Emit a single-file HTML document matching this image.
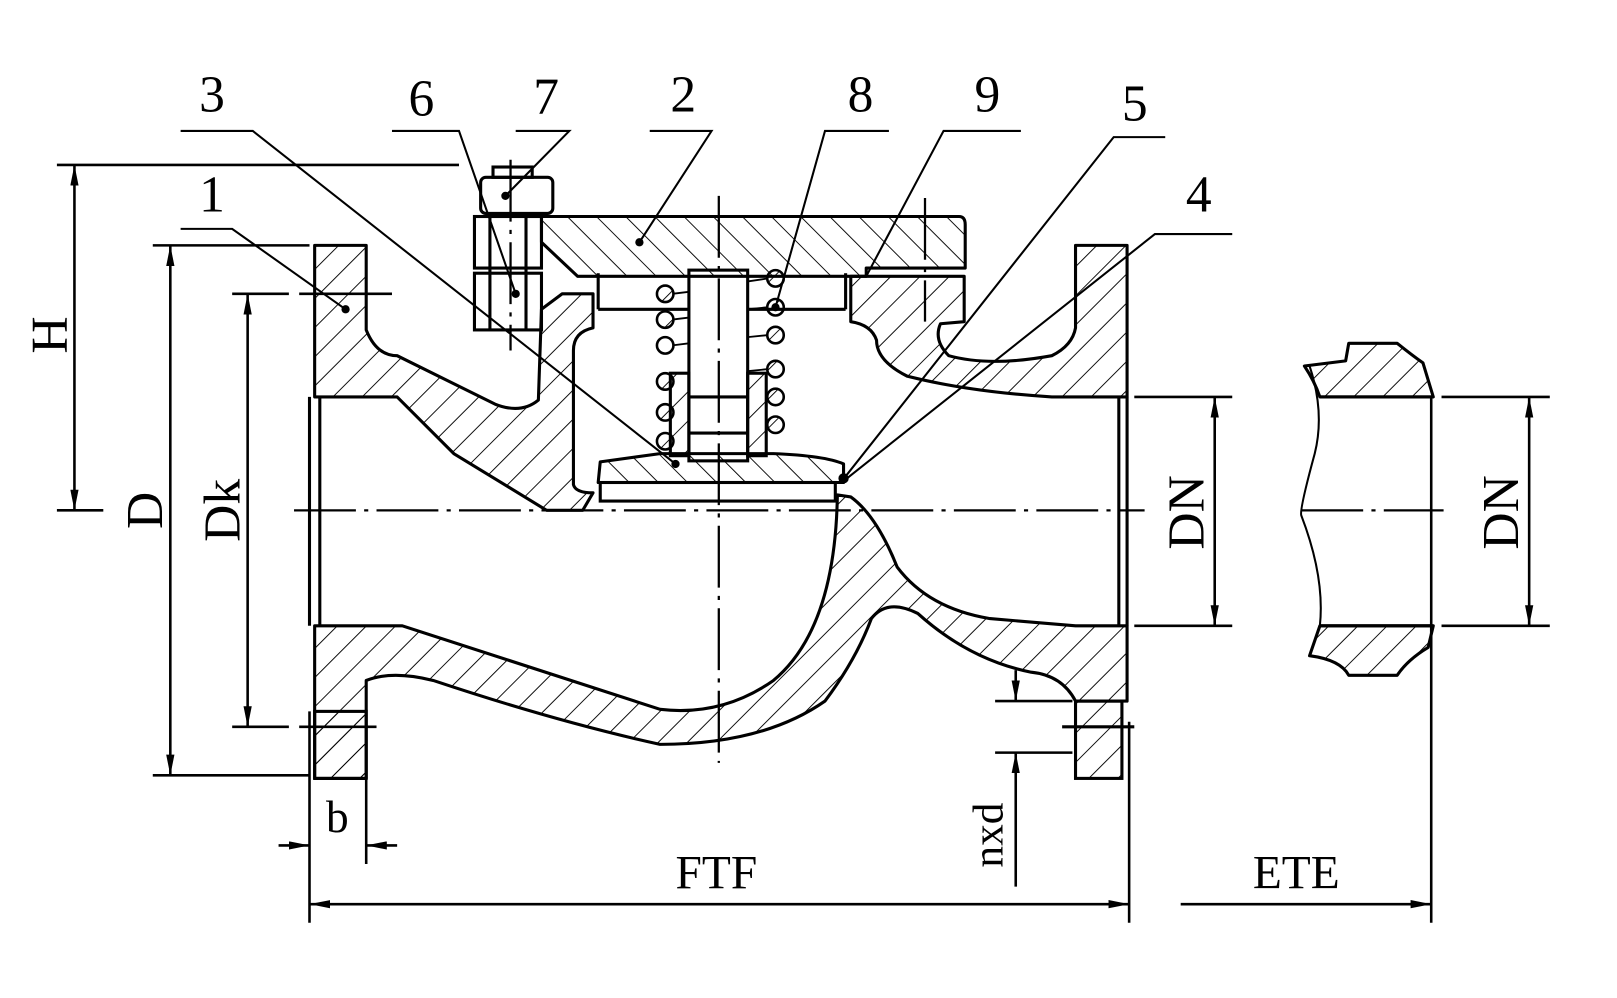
<!DOCTYPE html>
<html><head><meta charset="utf-8"><style>
html,body{margin:0;padding:0;background:#fff;}
svg{display:block;}
text{font-family:"Liberation Serif",serif;fill:#000;}
</style></head><body>
<svg width="1617" height="998" viewBox="0 0 1568 968" xmlns="http://www.w3.org/2000/svg">
<defs>
<pattern id="h" patternUnits="userSpaceOnUse" width="20" height="20" patternTransform="rotate(45)">
<line x1="0" y1="0" x2="0" y2="20" stroke="#000" stroke-width="1.8"/>
</pattern>
<pattern id="h2" patternUnits="userSpaceOnUse" width="20" height="20" patternTransform="rotate(-45)">
<line x1="0" y1="0" x2="0" y2="20" stroke="#000" stroke-width="1.8"/>
</pattern>
<marker id="a" viewBox="0 0 20 8" refX="20" refY="4" markerWidth="20" markerHeight="8" markerUnits="userSpaceOnUse" orient="auto-start-reverse"><path d="M0,0 L20,4 L0,8 z" fill="#000"/></marker>
</defs>
<g fill="url(#h)" stroke="#000" stroke-width="3" stroke-linejoin="round">
<path d="M305,238 L355,238 L355,320 Q365,345 385,345 L480,392 Q505,402 522,388 L525,300 L545,285 L575,285 L575,318 Q556,322 556,340 L556,470 Q558,478 575,478 L565,495 L530,495 L440,440 L385,385 L305,385 Z"/>
<path d="M825,268 L935,268 L935,312 L912,314 Q905,330 920,345 Q960,356 1020,345 Q1040,335 1043,318 L1043,238 L1093,238 L1093,385 L1020,385 Q940,380 880,365 Q850,350 850,330 Q845,315 825,312 Z"/>
<path d="M305,607 L390,607 L640,688 Q700,695 750,660 Q810,610 812,480 L825,482 Q850,500 870,550 Q900,590 960,600 L1043,607 L1093,607 L1093,680 L1043,680 Q1030,655 1000,652 Q940,640 890,595 Q860,580 845,600 Q830,640 800,680 Q740,722 640,722 Q540,700 420,660 Q380,650 355,660 L355,755 L305,755 Z"/>
<path fill="url(#h2)" d="M525,210 L930,210 Q936,210 936,218 L936,260 L840,260 L840,268 L560,268 L525,235 Z"/>
<path fill="url(#h2)" d="M582,448 L640,440 L750,440 Q800,442 818,450 L818,468 L580,468 Z"/>
<path d="M1265,355 L1305,350 L1308,333 L1355,333 Q1370,345 1380,352 L1390,385 L1280,385 Q1275,370 1265,355 Z"/>
<path d="M1280,607 L1390,607 L1385,628 Q1365,640 1355,655 L1308,655 Q1300,640 1270,636 Z"/>
</g>
<g fill="none" stroke="#000" stroke-width="3">
<line x1="300" y1="385" x2="300" y2="607"/><line x1="310" y1="385" x2="310" y2="607"/>
<line x1="1085" y1="385" x2="1085" y2="607"/><line x1="1093" y1="385" x2="1093" y2="607"/>
<rect x="1043" y="680" width="45" height="75" fill="url(#h)"/>
<line x1="1030" y1="705" x2="1100" y2="705"/>
<rect x="305" y="690" width="50" height="65" fill="url(#h)"/>
<rect x="460" y="210" width="65" height="50"/>
<rect x="460" y="265" width="65" height="55"/>
<line x1="475" y1="210" x2="475" y2="320"/><line x1="510" y1="210" x2="510" y2="320"/>
<rect x="466" y="172" width="70" height="35" rx="5"/>
<rect x="478" y="162" width="38" height="10"/>
<rect x="668" y="262" width="57" height="185"/>
<line x1="668" y1="385" x2="725" y2="385"/>
<line x1="668" y1="420" x2="725" y2="420"/>
<line x1="580" y1="265" x2="580" y2="300"/><line x1="580" y1="300" x2="668" y2="300"/>
<line x1="820" y1="265" x2="820" y2="300"/><line x1="725" y1="300" x2="820" y2="300"/>
<rect x="650" y="362" width="18" height="80" fill="url(#h)"/>
<rect x="725" y="362" width="18" height="80" fill="url(#h)"/>
<rect x="582" y="468" width="228" height="18"/>
<line x1="1280" y1="385" x2="1390" y2="385"/><line x1="1280" y1="607" x2="1390" y2="607"/>
<path d="M1270,355 Q1285,400 1275,440 Q1260,495 1262,500 Q1285,560 1280,607 L1270,636" stroke-width="2"/>
</g>
<g fill="url(#h)" stroke="#000" stroke-width="2.5">
<circle cx="645" cy="285" r="8"/><circle cx="645" cy="310" r="8"/><circle cx="645" cy="335" r="8"/>
<circle cx="645" cy="370" r="8"/><circle cx="645" cy="400" r="8"/><circle cx="645" cy="428" r="8"/>
<circle cx="752" cy="270" r="8"/><circle cx="752" cy="298" r="8"/><circle cx="752" cy="325" r="8"/>
<circle cx="752" cy="358" r="8"/><circle cx="752" cy="385" r="8"/><circle cx="752" cy="412" r="8"/>
</g>
<g stroke="#000" stroke-width="1.8">
<line x1="652" y1="285" x2="668" y2="283"/><line x1="652" y1="310" x2="668" y2="308"/><line x1="652" y1="335" x2="668" y2="333"/>
<line x1="725" y1="273" x2="745" y2="270"/><line x1="725" y1="300" x2="745" y2="298"/><line x1="725" y1="327" x2="745" y2="325"/><line x1="725" y1="360" x2="745" y2="358"/>
</g>
<g stroke="#000" stroke-width="2.2" stroke-dasharray="60,8,4,8" fill="none">
<line x1="285" y1="495" x2="1110" y2="495"/>
<line x1="1262" y1="495" x2="1400" y2="495"/>
<line x1="697" y1="190" x2="697" y2="740"/>
<line x1="897" y1="192" x2="897" y2="312"/>
<line x1="495" y1="155" x2="495" y2="340"/>
</g>
<g stroke="#000" stroke-width="2" fill="none">
<polyline points="175,127 245,127 655,450"/>
<polyline points="380,127 445,127 500,285"/>
<polyline points="500,127 552,127 490,190"/>
<polyline points="630,127 690,127 620,235"/>
<polyline points="862,127 800,127 752,298"/>
<polyline points="990,127 915,127 840,268"/>
<polyline points="1130,133 1080,133 820,462"/>
<polyline points="1195,227 1120,227 820,465"/>
<polyline points="175,222 225,222 335,300"/>
</g>
<g fill="#000"><circle cx="655" cy="450" r="4"/><circle cx="500" cy="285" r="4"/><circle cx="490" cy="190" r="4"/><circle cx="620" cy="235" r="4"/><circle cx="752" cy="298" r="4"/><circle cx="335" cy="300" r="4"/><circle cx="818" cy="464" r="5"/></g>
<g stroke="#000" stroke-width="2.5" fill="none">
<line x1="55" y1="160" x2="445" y2="160"/>
<line x1="55" y1="495" x2="100" y2="495"/>
<line x1="72" y1="160" x2="72" y2="495" marker-start="url(#a)" marker-end="url(#a)"/>
<line x1="148" y1="238" x2="300" y2="238"/><line x1="148" y1="752" x2="300" y2="752"/>
<line x1="165" y1="238" x2="165" y2="752" marker-start="url(#a)" marker-end="url(#a)"/>
<line x1="225" y1="285" x2="280" y2="285"/><line x1="290" y1="285" x2="380" y2="285"/>
<line x1="225" y1="705" x2="280" y2="705"/><line x1="290" y1="705" x2="365" y2="705"/>
<line x1="240" y1="285" x2="240" y2="705" marker-start="url(#a)" marker-end="url(#a)"/>
<line x1="1100" y1="385" x2="1195" y2="385"/><line x1="1100" y1="607" x2="1195" y2="607"/>
<line x1="1178" y1="385" x2="1178" y2="607" marker-start="url(#a)" marker-end="url(#a)"/>
<line x1="1398" y1="385" x2="1503" y2="385"/><line x1="1398" y1="607" x2="1503" y2="607"/>
<line x1="1483" y1="385" x2="1483" y2="607" marker-start="url(#a)" marker-end="url(#a)"/>
<line x1="300" y1="690" x2="300" y2="895"/><line x1="1095" y1="700" x2="1095" y2="895"/>
<line x1="300" y1="877" x2="1095" y2="877" marker-start="url(#a)" marker-end="url(#a)"/>
<line x1="1388" y1="385" x2="1388" y2="895"/>
<line x1="1145" y1="877" x2="1388" y2="877" marker-end="url(#a)"/>
<line x1="355" y1="755" x2="355" y2="838"/>
<line x1="270" y1="820" x2="300" y2="820" marker-end="url(#a)"/>
<line x1="385" y1="820" x2="355" y2="820" marker-end="url(#a)"/>
<line x1="965" y1="680" x2="1040" y2="680"/><line x1="965" y1="730" x2="1040" y2="730"/>
<line x1="985" y1="650" x2="985" y2="680" marker-end="url(#a)"/>
<line x1="985" y1="860" x2="985" y2="730" marker-end="url(#a)"/>
</g>
<g font-size="50">
<text x="193" y="108">3</text><text x="396" y="112">6</text><text x="517" y="110">7</text>
<text x="650" y="108">2</text><text x="822" y="108">8</text><text x="945" y="108">9</text>
<text x="1088" y="117">5</text><text x="1150" y="205">4</text><text x="193" y="205">1</text>
<text x="316" y="807" font-size="44">b</text>
<text x="655" y="862" font-size="46">FTF</text>
<text x="1215" y="862" font-size="46">ETE</text>
<text transform="translate(65,325) rotate(-90)" text-anchor="middle">H</text>
<text transform="translate(157,495) rotate(-90)" text-anchor="middle">D</text>
<text transform="translate(232,495) rotate(-90)" text-anchor="middle">Dk</text>
<text transform="translate(1167,497) rotate(-90)" text-anchor="middle">DN</text>
<text transform="translate(1472,497) rotate(-90)" text-anchor="middle">DN</text>
<text transform="translate(972,810) rotate(-90)" text-anchor="middle" font-size="42">nxd</text>
</g>
</svg>
</body></html>
